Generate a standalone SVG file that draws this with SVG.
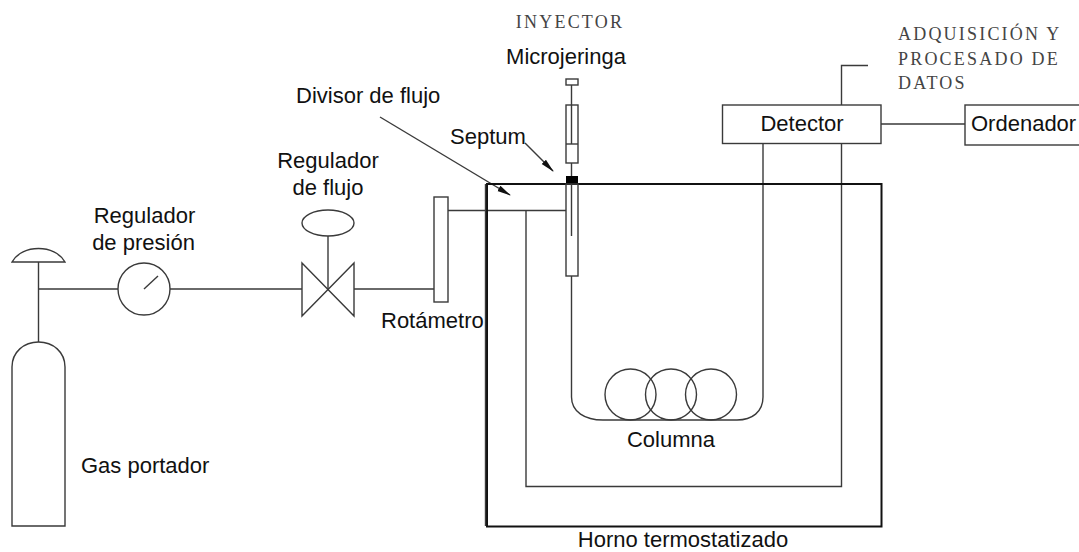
<svg xmlns="http://www.w3.org/2000/svg" width="1079" height="552" viewBox="0 0 1079 552">
<style>
.l{fill:none;stroke:#3a3a3a;stroke-width:1.4}
.o{fill:none;stroke:#111;stroke-width:2}
text{font-family:"Liberation Sans",Arial,sans-serif;font-size:22px;fill:#111}
.s{font-family:"Liberation Serif","Times New Roman",serif;font-size:18px;fill:#444;letter-spacing:2.200px}
</style>
<defs><marker id="a" markerWidth="14" markerHeight="8" refX="13" refY="4" orient="auto" markerUnits="userSpaceOnUse"><path d="M0 1L14 4L0 7Z" fill="#111"/></marker></defs>
<rect width="1079" height="552" fill="#fff"/>
<g id="connectors">
<path class="l" d="M38.500 289H118M170 289H302M354 289H434M448 210.500H566M526 210.500V486.500H841.500V143.500M841.500 105V65.500H868M881 124H965M571.500 276V397C571.500 412 585 420 603 420H737C752 420 763 412 763 397V143.500"/>
<path class="l" d="M571.500 163V176"/>
<path class="l" d="M380 117L510 195" marker-end="url(#a)"/>
<path class="l" d="M525 143L553 171" marker-end="url(#a)"/>
</g>
<g id="cylinder"><path class="l" d="M12 526V367C12 352 24 342 38.500 342S65 352 65 367V526Z"/><text x="81" y="473">Gas portador</text></g>
<g id="regulador-presion"><path class="l" d="M12 262C22 244 55 244 65 262ZM38.500 262V342"/><circle class="l" cx="144" cy="289" r="26"/><path class="l" d="M144 289L158 276"/><text x="144.500" y="223" text-anchor="middle">Regulador</text><text x="143.500" y="250" text-anchor="middle">de presión</text></g>
<g id="regulador-flujo"><path class="l" d="M302 263L354 316V263L302 316Z"/><ellipse class="l" cx="328" cy="223" rx="26" ry="13"/><path class="l" d="M328 236V289"/><text x="328" y="168" text-anchor="middle">Regulador</text><text x="328" y="195" text-anchor="middle">de flujo</text></g>
<g id="rotametro"><rect class="l" x="434" y="197" width="14" height="105"/><text x="381" y="328">Rotámetro</text></g>
<g id="horno"><rect class="o" x="487" y="184" width="394.500" height="342.500"/><path class="l" d="M485.500 184V526"/><text x="683" y="547" text-anchor="middle">Horno termostatizado</text></g>
<g id="inyector"><text class="s" x="570" y="28" text-anchor="middle">INYECTOR</text><text x="566" y="64" text-anchor="middle">Microjeringa</text>
<rect class="l" x="566" y="79" width="12" height="6"/><path class="l" d="M571.500 85V144"/><rect class="l" x="566" y="105" width="12" height="58"/><path class="l" d="M566 144H578"/><rect x="566" y="176" width="12" height="8" fill="#000"/><rect class="l" x="566" y="184" width="12" height="92"/><path class="l" d="M571.500 184V236"/></g>
<g id="divisor"><text x="296" y="103">Divisor de flujo</text></g>
<g id="septum"><text x="450" y="144">Septum</text></g>
<g id="columna"><circle class="l" cx="630.500" cy="394.500" r="25.500"/><circle class="l" cx="671" cy="394.500" r="25.500"/><circle class="l" cx="711" cy="394.500" r="25.500"/><text x="671" y="447" text-anchor="middle">Columna</text></g>
<g id="detector"><rect class="l" x="722.500" y="105" width="158.500" height="38.500"/><text x="802" y="131" text-anchor="middle">Detector</text></g>
<g id="ordenador"><rect class="l" x="965" y="105" width="120" height="40"/><text x="971" y="131">Ordenador</text></g>
<g id="adquisicion"><text class="s" x="898" y="40">ADQUISICIÓN Y</text><text class="s" x="898" y="65">PROCESADO DE</text><text class="s" x="898" y="89">DATOS</text></g>
</svg>
